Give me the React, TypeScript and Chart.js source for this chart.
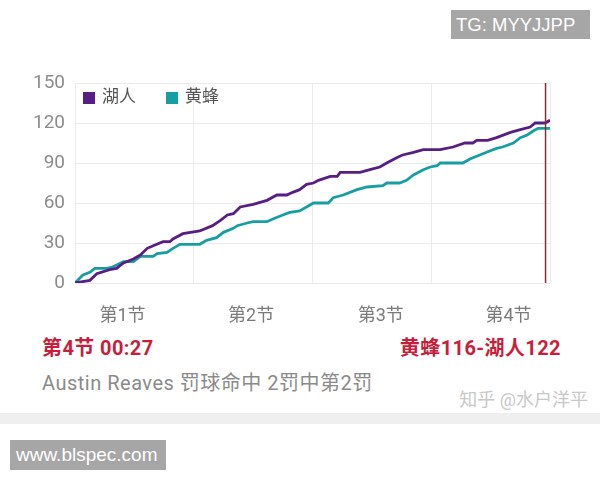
import React, { useEffect, useRef } from "react";
import { Chart, registerables } from "chart.js";

Chart.register(...registerables);

// ---- Data (minutes elapsed, cumulative points) ----
const LAKERS_T = [0, 1.5, 2.2, 3.5, 4.2, 4.9, 5.9, 6.6, 7.3, 7.9, 8.9, 9.6, 9.9, 10.9, 12.6, 13.9, 14.7, 15.4, 16.0, 16.7, 18.0, 19.4, 20.4, 21.4, 22.0, 22.7, 23.4, 24.1, 24.6, 25.8, 26.5, 26.8, 28.8, 29.8, 30.8, 31.5, 32.5, 33.1, 34.2, 35.2, 36.9, 38.2, 39.4, 40.2, 40.6, 41.7, 42.6, 44.0, 45.0, 46.0, 46.5, 47.5, 48.0];
const LAKERS_PTS = [0, 2, 7, 10, 11, 15, 18, 21, 26, 28, 31, 31, 33, 37, 39, 43, 47, 51, 52, 57, 59, 62, 66, 66, 68, 70, 74, 75, 77, 80, 80, 83, 83, 85, 87, 90, 94, 96, 98, 100, 100, 102, 105, 105, 107, 107, 109, 113, 115, 117, 120, 120, 122];

const HORNETS_T = [0, 0.8, 1.5, 2.0, 3.2, 3.8, 4.9, 5.9, 6.6, 7.9, 8.3, 9.3, 9.9, 10.6, 12.6, 13.3, 14.3, 15.0, 16.0, 16.4, 17.4, 18.0, 19.4, 20.0, 21.0, 21.7, 22.7, 24.1, 25.6, 26.1, 27.1, 28.5, 29.5, 31.1, 31.5, 32.8, 33.5, 34.2, 35.2, 35.9, 36.6, 36.9, 39.2, 39.9, 40.9, 41.9, 42.6, 43.2, 44.3, 45.0, 45.7, 46.3, 46.8, 48.0];
const HORNETS_PTS = [0, 6, 8, 11, 11, 12, 16, 16, 20, 20, 22, 23, 26, 29, 29, 32, 34, 38, 41, 43, 45, 46, 46, 48, 51, 53, 54, 60, 60, 64, 66, 70, 72, 73, 75, 75, 77, 81, 85, 87, 88, 90, 90, 93, 96, 99, 101, 102, 105, 109, 111, 114, 116, 116];

const SERIES_NAMES = ["湖人", "黄蜂"];
const SERIES_COLORS = ["#571e84", "#169ea3"];

const QUARTER_LABELS = ["第1节", "第2节", "第3节", "第4节"];
const QUARTER_LABEL_POS = [4.8, 17.8, 30.9, 43.8];
const QUARTER_GRID = [0, 12, 24, 36, 48];

const Y_MIN = 0;
const Y_MAX = 150;
const Y_STEP = 30;

const MARKER_TIME = 47.55; // 第4节 00:27

const FONT = 'Roboto, "Noto Sans CJK SC", sans-serif';

const insideLegend = {
  id: "insideLegend",
  afterDraw(chart: any) {
    const { ctx, chartArea } = chart;
    ctx.save();
    ctx.font = `17px ${FONT}`;
    ctx.textBaseline = "middle";
    let x = chartArea.left + 8;
    const y = chartArea.top + 9;
    chart.data.datasets.forEach((ds: any) => {
      if (!ds.showInLegend) return;
      ctx.fillStyle = ds.borderColor;
      ctx.fillRect(x, y, 12, 12);
      ctx.fillStyle = "#555555";
      const tx = x + 19;
      ctx.fillText(ds.label, tx, y + 6);
      x = tx + ctx.measureText(ds.label).width + 30;
    });
    ctx.restore();
  },
};

function ScoreChart() {
  const ref = useRef<HTMLCanvasElement | null>(null);
  useEffect(() => {
    if (!ref.current) return;
    const tickValues = [...QUARTER_GRID, ...QUARTER_LABEL_POS].sort((a, b) => a - b);
    const chart = new Chart(ref.current, {
      type: "line",
      data: {
        datasets: [
          {
            label: "marker",
            data: [
              { x: MARKER_TIME, y: Y_MIN },
              { x: MARKER_TIME, y: Y_MAX },
            ],
            borderColor: "#7e2f37",
            borderWidth: 1.5,
            pointRadius: 0,
            showInLegend: false,
          } as any,
          {
            label: SERIES_NAMES[0],
            data: LAKERS_T.map((t, i) => ({ x: t, y: LAKERS_PTS[i] })),
            borderColor: SERIES_COLORS[0],
            backgroundColor: SERIES_COLORS[0],
            borderWidth: 2.8,
            pointRadius: 0,
            tension: 0,
            showInLegend: true,
          } as any,
          {
            label: SERIES_NAMES[1],
            data: HORNETS_T.map((t, i) => ({ x: t, y: HORNETS_PTS[i] })),
            borderColor: SERIES_COLORS[1],
            backgroundColor: SERIES_COLORS[1],
            borderWidth: 2.8,
            pointRadius: 0,
            tension: 0,
            showInLegend: true,
          } as any,
        ],
      },
      options: {
        animation: false,
        responsive: false,
        maintainAspectRatio: false,
        layout: { padding: { top: 83, left: 0, right: 50, bottom: 7 } },
        plugins: {
          legend: { display: false },
          tooltip: { enabled: false },
        },
        scales: {
          x: {
            type: "linear",
            min: 0,
            max: 48,
            afterBuildTicks: (axis: any) => {
              axis.ticks = tickValues.map((v) => ({ value: v }));
            },
            afterFit: (scale: any) => {
              scale.height = 40;
            },
            grid: {
              drawTicks: false,
              lineWidth: 1,
              color: (ctx: any) =>
                ctx.tick && QUARTER_GRID.includes(ctx.tick.value) ? "#ebebeb" : "rgba(0,0,0,0)",
            },
            border: { display: false },
            ticks: {
              autoSkip: false,
              maxRotation: 0,
              padding: 23,
              color: "#7a7a7a",
              font: { family: FONT, size: 18 },
              callback: (value: any) => {
                const i = QUARTER_LABEL_POS.indexOf(Number(value));
                return i >= 0 ? QUARTER_LABELS[i] : "";
              },
            },
          },
          y: {
            min: Y_MIN,
            max: Y_MAX,
            afterFit: (scale: any) => {
              scale.width = 75;
            },
            grid: { drawTicks: false, color: "#ebebeb", lineWidth: 1 },
            border: { display: false },
            ticks: {
              stepSize: Y_STEP,
              padding: 10,
              color: "#8c8c8c",
              font: { family: FONT, size: 19 },
            },
          },
        },
      },
      plugins: [insideLegend],
    });
    return () => chart.destroy();
  }, []);
  return (
    <canvas
      ref={ref}
      width={600}
      height={330}
      style={{ position: "absolute", left: 0, top: 0, width: 600, height: 330 }}
    />
  );
}

export default function App() {
  const abs: React.CSSProperties = { position: "absolute", whiteSpace: "nowrap" };
  return (
    <div
      style={{
        position: "fixed",
        left: 0,
        top: 0,
        width: 600,
        height: 480,
        background: "#ffffff",
        overflow: "hidden",
        fontFamily: FONT,
      }}
    >
      <ScoreChart />
      <div
        style={{
          ...abs,
          left: 451,
          top: 10,
          width: 139,
          height: 29,
          background: "#a6a6a6",
          color: "#ffffff",
          fontFamily: '"Liberation Sans", Arial, sans-serif',
          fontSize: 18.5,
          lineHeight: "29px",
          paddingLeft: 5,
          boxSizing: "border-box",
        }}
      >
        TG: MYYJJPP
      </div>
      <div
        style={{
          ...abs,
          left: 42,
          top: 336,
          fontSize: 20,
          lineHeight: "24px",
          fontWeight: 700,
          letterSpacing: 0.4,
          color: "#c81e3c",
        }}
      >
        第4节 00:27
      </div>
      <div
        style={{
          ...abs,
          right: 39,
          top: 336,
          fontSize: 20,
          lineHeight: "24px",
          fontWeight: 700,
          letterSpacing: 0.4,
          color: "#c81e3c",
        }}
      >
        黄蜂116-湖人122
      </div>
      <div
        style={{
          ...abs,
          left: 42,
          top: 371,
          fontSize: 20,
          lineHeight: "24px",
          letterSpacing: 0.5,
          color: "#8a8a8a",
        }}
      >
        Austin Reaves 罚球命中 2罚中第2罚
      </div>
      <div
        style={{
          ...abs,
          right: 12,
          top: 389,
          fontSize: 18,
          lineHeight: "22px",
          color: "#c8c8c8",
        }}
      >
        知乎 @水户洋平
      </div>
      <div
        style={{
          position: "absolute",
          left: 0,
          top: 413,
          width: 600,
          height: 11,
          background: "#efeff0",
        }}
      />
      <div
        style={{
          ...abs,
          left: 10,
          top: 440,
          width: 156,
          height: 30,
          background: "#a6a6a6",
          color: "#ffffff",
          fontFamily: '"Liberation Sans", Arial, sans-serif',
          fontSize: 19,
          lineHeight: "30px",
          paddingLeft: 6,
          boxSizing: "border-box",
        }}
      >
        www.blspec.com
      </div>
    </div>
  );
}
